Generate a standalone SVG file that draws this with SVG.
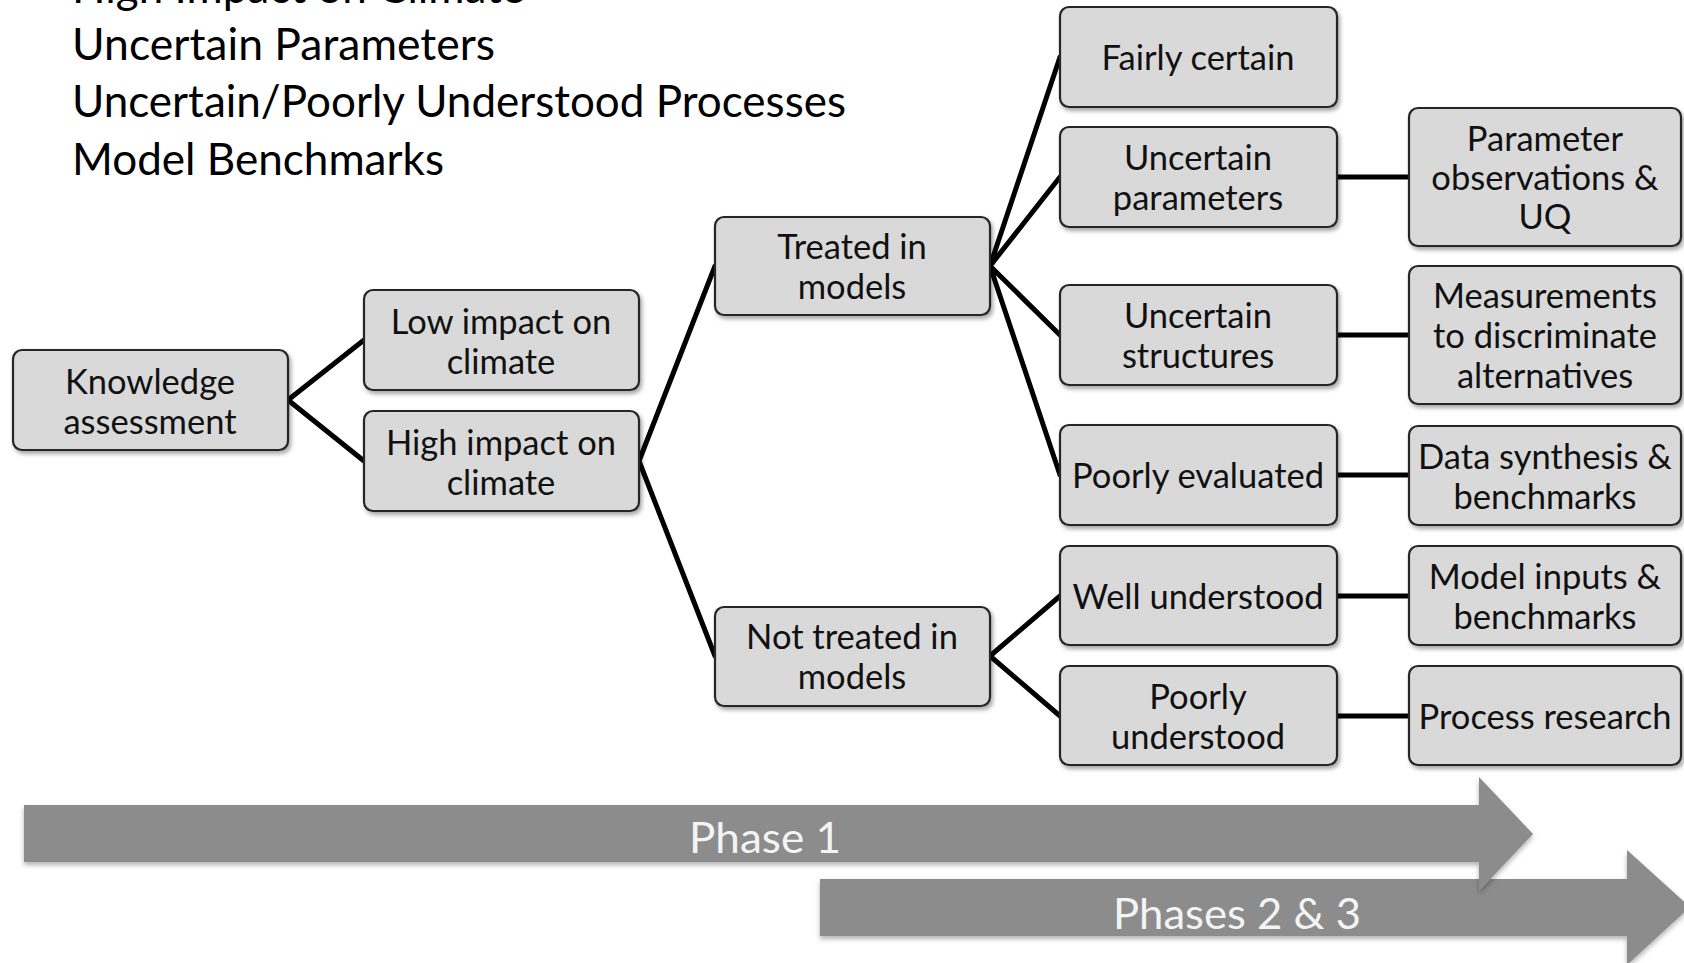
<svg xmlns="http://www.w3.org/2000/svg" width="1684" height="963" viewBox="0 0 1684 963">
  <defs>
    <filter id="shadow" x="-10%" y="-10%" width="125%" height="135%">
      <feDropShadow dx="2" dy="3" stdDeviation="2" flood-color="#000" flood-opacity="0.35"/>
    </filter>
    <filter id="arrowShadow" x="-5%" y="-20%" width="110%" height="150%">
      <feDropShadow dx="0" dy="3" stdDeviation="2.5" flood-color="#000" flood-opacity="0.3"/>
    </filter>
  </defs>
  <style>
    .box { fill: #d9d9d9; stroke: #262626; stroke-width: 2.2; filter: url(#shadow); }
    .lbl { font-family: Lato, "Open Sans", sans-serif; font-size: 34.5px; fill: #111; text-anchor: middle; }
    .head { font-family: Lato, "Open Sans", sans-serif; font-size: 44px; fill: #000; }
    .link { stroke: #000; stroke-width: 5; fill: none; stroke-linecap: round; }
    .phase { fill: #8c8c8c; filter: url(#arrowShadow); }
    .phaseText { font-family: Lato, "Open Sans", sans-serif; font-size: 42px; fill: #f4f4f4; text-anchor: middle; }
  </style>

  <rect width="1684" height="963" fill="#fff"/>

  <!-- heading list; the first line runs off the top edge -->
  <g id="heading">
    <text class="head" x="72" y="3" textLength="453" lengthAdjust="spacingAndGlyphs">High Impact on Climate</text>
    <text class="head" x="72" y="60" textLength="423" lengthAdjust="spacingAndGlyphs">Uncertain Parameters</text>
    <text class="head" x="72" y="117" textLength="774" lengthAdjust="spacingAndGlyphs">Uncertain/Poorly Understood Processes</text>
    <text class="head" x="72" y="175" textLength="372" lengthAdjust="spacingAndGlyphs">Model Benchmarks</text>
  </g>

  <!-- phase arrows -->
  <g id="phases">
    <polygon class="phase" points="820,879 1627,879 1627,850 1690,907 1627,965 1627,936 820,936"/>
    <text class="phaseText" x="1237" y="929" textLength="248" lengthAdjust="spacingAndGlyphs">Phases 2 &amp; 3</text>
    <polygon class="phase" points="24,805 1479,805 1479,777 1533,834 1479,891 1479,862 24,862"/>
    <text class="phaseText" x="765" y="853" textLength="152" lengthAdjust="spacingAndGlyphs">Phase 1</text>
  </g>

  <!-- connectors -->
  <g id="connectors">
    <path class="link" d="M288,400 L364,340 M288,400 L364,461"/>
    <path class="link" d="M639,461 L715,266 M639,461 L715,656"/>
    <path class="link" d="M990,266 L1060,57 M990,266 L1060,177 M990,266 L1060,335 M990,266 L1060,475"/>
    <path class="link" d="M990,656 L1060,596 M990,656 L1060,716"/>
    <path class="link" d="M1337,177 H1409 M1337,335 H1409 M1337,475 H1409 M1337,596 H1409 M1337,716 H1409"/>
  </g>

  <!-- nodes -->
  <g id="knowledge">
    <rect class="box" x="13" y="350" width="275" height="100" rx="9"/>
    <text class="lbl" x="150" y="394">Knowledge</text>
    <text class="lbl" x="150" y="434">assessment</text>
  </g>
  <g id="low-impact">
    <rect class="box" x="364" y="290" width="275" height="100" rx="9"/>
    <text class="lbl" x="501" y="334">Low impact on</text>
    <text class="lbl" x="501" y="374">climate</text>
  </g>
  <g id="high-impact">
    <rect class="box" x="364" y="411" width="275" height="100" rx="9"/>
    <text class="lbl" x="501" y="455">High impact on</text>
    <text class="lbl" x="501" y="495">climate</text>
  </g>
  <g id="treated">
    <rect class="box" x="715" y="217" width="275" height="98" rx="9"/>
    <text class="lbl" x="852" y="259">Treated in</text>
    <text class="lbl" x="852" y="299">models</text>
  </g>
  <g id="not-treated">
    <rect class="box" x="715" y="607" width="275" height="99" rx="9"/>
    <text class="lbl" x="852" y="649">Not treated in</text>
    <text class="lbl" x="852" y="689">models</text>
  </g>
  <g id="fairly-certain">
    <rect class="box" x="1060" y="7" width="277" height="100" rx="9"/>
    <text class="lbl" x="1198" y="70">Fairly certain</text>
  </g>
  <g id="uncertain-parameters">
    <rect class="box" x="1060" y="127" width="277" height="100" rx="9"/>
    <text class="lbl" x="1198" y="170">Uncertain</text>
    <text class="lbl" x="1198" y="210">parameters</text>
  </g>
  <g id="uncertain-structures">
    <rect class="box" x="1060" y="285" width="277" height="100" rx="9"/>
    <text class="lbl" x="1198" y="328">Uncertain</text>
    <text class="lbl" x="1198" y="368">structures</text>
  </g>
  <g id="poorly-evaluated">
    <rect class="box" x="1060" y="425" width="277" height="100" rx="9"/>
    <text class="lbl" x="1198" y="488">Poorly evaluated</text>
  </g>
  <g id="well-understood">
    <rect class="box" x="1060" y="546" width="277" height="99" rx="9"/>
    <text class="lbl" x="1198" y="609">Well understood</text>
  </g>
  <g id="poorly-understood">
    <rect class="box" x="1060" y="666" width="277" height="99" rx="9"/>
    <text class="lbl" x="1198" y="709">Poorly</text>
    <text class="lbl" x="1198" y="749">understood</text>
  </g>
  <g id="parameter-observations">
    <rect class="box" x="1409" y="108" width="272" height="138" rx="9"/>
    <text class="lbl" x="1545" y="151">Parameter</text>
    <text class="lbl" x="1545" y="190">observations &amp;</text>
    <text class="lbl" x="1545" y="229">UQ</text>
  </g>
  <g id="measurements">
    <rect class="box" x="1409" y="266" width="272" height="138" rx="9"/>
    <text class="lbl" x="1545" y="308">Measurements</text>
    <text class="lbl" x="1545" y="348">to discriminate</text>
    <text class="lbl" x="1545" y="388">alternatives</text>
  </g>
  <g id="data-synthesis">
    <rect class="box" x="1409" y="426" width="272" height="99" rx="9"/>
    <text class="lbl" x="1545" y="469">Data synthesis &amp;</text>
    <text class="lbl" x="1545" y="509">benchmarks</text>
  </g>
  <g id="model-inputs">
    <rect class="box" x="1409" y="546" width="272" height="99" rx="9"/>
    <text class="lbl" x="1545" y="589">Model inputs &amp;</text>
    <text class="lbl" x="1545" y="629">benchmarks</text>
  </g>
  <g id="process-research">
    <rect class="box" x="1409" y="666" width="272" height="99" rx="9"/>
    <text class="lbl" x="1545" y="729">Process research</text>
  </g>
</svg>
